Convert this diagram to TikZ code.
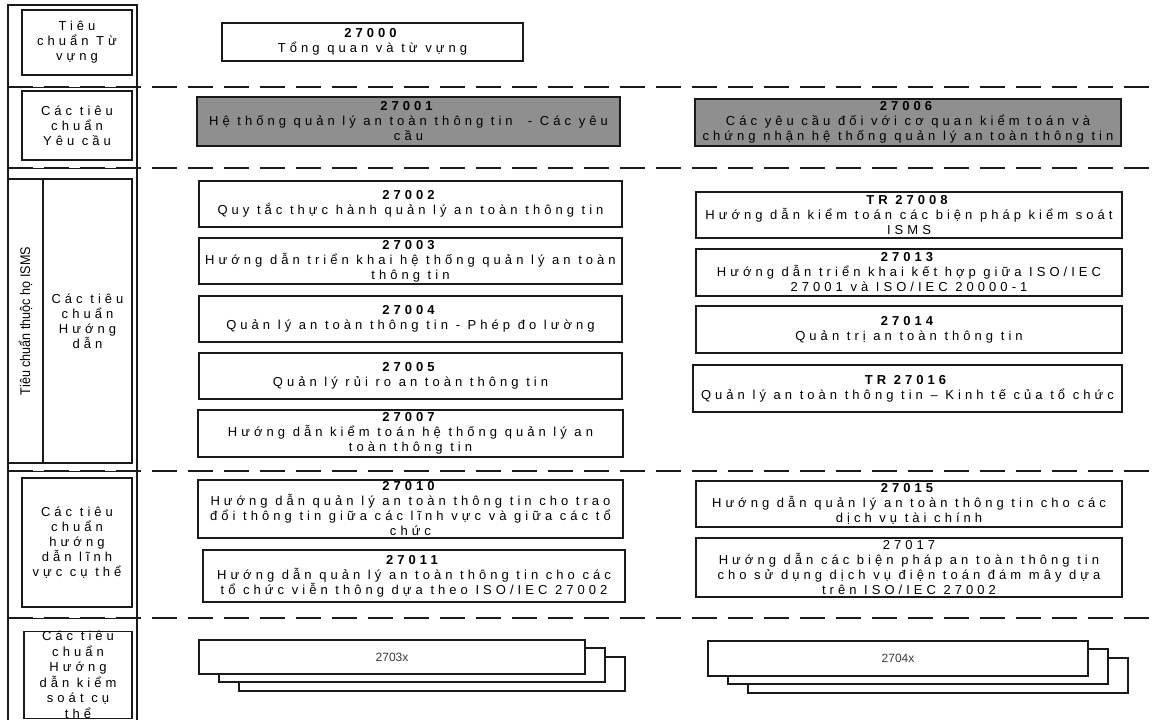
\documentclass[tikz,border=0pt]{standalone}
\usepackage{fontspec}
\setmainfont{Liberation Sans}[LetterSpace=31]
\newfontfamily\plainsans{Liberation Sans}
\newfontfamily\narrowsans{Liberation Sans}[FakeStretch=0.9]
\usetikzlibrary{positioning}
\definecolor{ISOGray}{HTML}{8F8F8F}
\definecolor{ISOLine}{HTML}{1A1A1A}
\definecolor{ISOText}{HTML}{3A3A3A}

\begin{document}
\begin{tikzpicture}[x=1pt,y=-1pt,
    box/.style={draw=ISOLine,line width=1.2pt,fill=white,inner sep=0pt,
      align=center,font=\fontsize{13}{15}\selectfont},
    reqbox/.style={box,fill=ISOGray},
    stdbox/.style={box,minimum width=425,minimum height=46},
    stackbox/.style={draw=ISOLine,line width=1.2pt,fill=white,inner sep=0pt,
      minimum width=386,minimum height=34,
      font=\plainsans\fontsize{12}{14}\selectfont,text=ISOText}]
  \useasboundingbox (0,0) rectangle (1153,720);
  % left frame and row separators
  \draw[ISOLine,line width=1.2pt] (8,720)--(8,5)--(137,5)--(137,720);
  \foreach \y in {87,168,471,618}{
    \draw[ISOLine,line width=1pt] (8,\y)--(137,\y);
    \draw[ISOLine,line width=2.4pt,dash pattern=on 25pt off 11pt]
      (8,\y)--(1153,\y);
  }
  % row headings
  \node[box,minimum width=110,minimum height=65] (hvoc) at (77,42.5)
    {Tiêu\\chuẩn Từ\\vựng};
  \node[box,minimum width=110,minimum height=69] (hreq) at (77,125.5)
    {Các tiêu\\chuẩn\\Yêu cầu};
  \node[box,rotate=90,minimum width=284,minimum height=35,
    font=\narrowsans\fontsize{14}{16}\selectfont] (hisms) at (25.5,321)
    {Tiêu chuẩn thuộc họ ISMS};
  \node[box,minimum width=89,minimum height=284] (hguide) at (87.5,321)
    {Các tiêu\\chuẩn\\Hướng\\dẫn};
  \node[box,minimum width=110,minimum height=129] (hsector) at (77,542.5)
    {Các tiêu\\chuẩn\\hướng\\dẫn lĩnh\\vực cụ thể};
  \node[box,minimum width=108,minimum height=86,
    font=\fontsize{13}{15.5}\selectfont] (hctrl) at (78,675)
    {Các tiêu\\chuẩn\\Hướng\\dẫn kiểm\\soát cụ\\thể};
  % vocabulary and requirements
  \node[box,minimum width=301,minimum height=38] (b27000) at (372.5,42)
    {\textbf{27000}\\Tổng quan và từ vựng};
  \node[reqbox,minimum width=423,minimum height=49] (b27001) at (408.5,121.5)
    {\textbf{27001}\\Hệ thống quản lý an toàn thông tin ~- Các yêu\\cầu};
  \node[reqbox,minimum width=426,minimum height=47] (b27006) at (908,122.5)
    {\textbf{27006}\\Các yêu cầu đối với cơ quan kiểm toán và\\chứng nhận hệ thống quản lý an toàn thông tin};
  % guidelines, left
  \node[stdbox,minimum width=423] (b27002) at (410.5,204)
    {\textbf{27002}\\Quy tắc thực hành quản lý an toàn thông tin};
  \node[stdbox,minimum width=423] (b27003) at (410.5,261)
    {\textbf{27003}\\Hướng dẫn triển khai hệ thống quản lý an toàn\\thông tin};
  \node[stdbox,minimum width=423] (b27004) at (410.5,319)
    {\textbf{27004}\\Quản lý an toàn thông tin - Phép đo lường};
  \node[stdbox,minimum width=423] (b27005) at (410.5,376)
    {\textbf{27005}\\Quản lý rủi ro an toàn thông tin};
  \node[stdbox,minimum height=47] (b27007) at (410.5,433.5)
    {\textbf{27007}\\Hướng dẫn kiểm toán hệ thống quản lý an\\toàn thông tin};
  % guidelines, right
  \node[stdbox,minimum width=426] (b27008) at (909,215)
    {\textbf{TR 27008}\\Hướng dẫn kiểm toán các biện pháp kiểm soát\\ISMS};
  \node[stdbox,minimum width=426,minimum height=47] (b27013) at (909,272.5)
    {\textbf{27013}\\Hướng dẫn triển khai kết hợp giữa ISO/IEC\\27001 và ISO/IEC 20000-1};
  \node[stdbox,minimum width=426,minimum height=47] (b27014) at (909,329.5)
    {\textbf{27014}\\Quản trị an toàn thông tin};
  \node[stdbox,minimum width=429,minimum height=47] (b27016) at (907.5,388.5)
    {\textbf{TR 27016}\\Quản lý an toàn thông tin -- Kinh tế của tổ chức};
  % sector-specific
  \node[stdbox,minimum height=58] (b27010) at (410.5,509)
    {\textbf{27010}\\Hướng dẫn quản lý an toàn thông tin cho trao\\đổi thông tin giữa các lĩnh vực và giữa các tổ\\chức};
  \node[stdbox,minimum width=422,minimum height=52] (b27011) at (414,576)
    {\textbf{27011}\\Hướng dẫn quản lý an toàn thông tin cho các\\tổ chức viễn thông dựa theo ISO/IEC 27002};
  \node[stdbox,minimum width=426] (b27015) at (909,504)
    {\textbf{27015}\\Hướng dẫn quản lý an toàn thông tin cho các\\dịch vụ tài chính};
  \node[stdbox,minimum width=426,minimum height=59] (b27017) at (909,567.5)
    {27017\\Hướng dẫn các biện pháp an toàn thông tin\\cho sử dụng dịch vụ điện toán đám mây dựa\\trên ISO/IEC 27002};
  % control-specific stacks
  \foreach \dx/\dy/\n in {40/17/c,20/8/b}{
    \node[stackbox] (s2703\n) at (392+\dx,657+\dy) {};
    \node[stackbox,minimum width=380,minimum height=35] (s2704\n)
      at (898+\dx,658.5+\dy) {};
  }
  \node[stackbox] (s2703a) at (392,657) {2703x};
  \node[stackbox,minimum width=380,minimum height=35] (s2704a) at (898,658.5)
    {2704x};
\end{tikzpicture}
\end{document}
